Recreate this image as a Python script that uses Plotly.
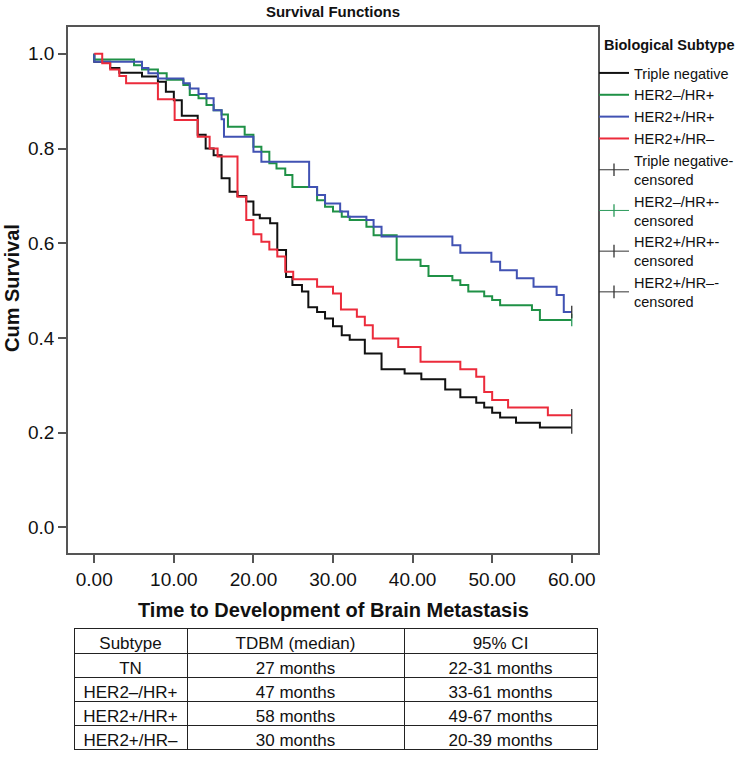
import plotly.graph_objects as go

# ---------------- data ----------------
series_names = ["Triple negative", "HER2–/HR+", "HER2+/HR+", "HER2+/HR–"]
censor_names = ["Triple negative-<br>censored", "HER2–/HR+-<br>censored",
                "HER2+/HR+-<br>censored", "HER2+/HR–-<br>censored"]
legend_title = "Biological Subtype"

tn_time = [0, 0, 2, 3.15, 6, 8, 9, 10, 11, 13, 14, 15, 16, 17, 18, 19.1, 20, 20.8, 22.1, 23,
           24.1, 24.9, 26.1, 26.9, 28, 29, 30, 31.1, 32.1, 34, 36.1, 39, 41.1, 44.1, 46, 48,
           49, 50, 51, 53, 56, 60]
tn_surv = [1.0, 0.983, 0.970, 0.960, 0.952, 0.941, 0.920, 0.902, 0.869, 0.829, 0.800, 0.786,
           0.737, 0.709, 0.700, 0.688, 0.660, 0.653, 0.642, 0.586, 0.529, 0.512, 0.498, 0.465,
           0.455, 0.441, 0.425, 0.406, 0.396, 0.367, 0.334, 0.325, 0.313, 0.291, 0.275, 0.263,
           0.253, 0.242, 0.232, 0.221, 0.211, 0.211]

hr_time = [0, 0, 5, 6, 8, 9.1, 11.2, 12, 13.1, 14.1, 15, 16, 16.8, 18.9, 20, 21, 22, 22.9, 24,
           24.9, 28, 29, 30, 31.1, 32.1, 34.2, 35.1, 38, 41, 42, 45, 46, 47, 49, 50, 51, 55,
           56, 60]
hr_surv = [1.0, 0.988, 0.976, 0.967, 0.959, 0.945, 0.934, 0.913, 0.906, 0.892, 0.881, 0.872,
           0.846, 0.829, 0.804, 0.793, 0.769, 0.758, 0.744, 0.719, 0.691, 0.677, 0.667, 0.656,
           0.649, 0.635, 0.617, 0.565, 0.552, 0.531, 0.522, 0.512, 0.498, 0.488, 0.480, 0.469,
           0.459, 0.438, 0.438]

hh_time = [0, 0, 6, 6.8, 8, 11.2, 12, 13.1, 14.1, 15, 16, 16.3, 20, 21, 27, 28, 29, 30.9,
           31.9, 34.2, 35.1, 36.1, 45, 46, 49.9, 51, 53.1, 55.2, 58.1, 59, 60]
hh_surv = [1.0, 0.983, 0.970, 0.959, 0.948, 0.938, 0.927, 0.915, 0.906, 0.881, 0.862, 0.825,
           0.793, 0.772, 0.719, 0.702, 0.684, 0.667, 0.656, 0.649, 0.635, 0.614, 0.596, 0.580,
           0.561, 0.543, 0.526, 0.508, 0.491, 0.455, 0.455]

hn_time = [0, 1, 2, 3.15, 4, 8, 10.1, 13, 14.5, 15.5, 18, 19.1, 20, 21, 22, 23, 24, 25, 28,
           30, 31, 33, 34, 35, 38.2, 41, 46, 48, 49, 50, 52, 57, 60]
hn_surv = [1.0, 0.980, 0.967, 0.953, 0.938, 0.904, 0.860, 0.825, 0.800, 0.783, 0.698, 0.649,
           0.619, 0.603, 0.587, 0.572, 0.540, 0.524, 0.508, 0.494, 0.460, 0.445, 0.427, 0.399,
           0.381, 0.350, 0.334, 0.318, 0.286, 0.269, 0.253, 0.237, 0.237]

censor_time = [60, 60, 60, 60]
censor_surv = [0.211, 0.438, 0.455, 0.237]

x_ticks = [0, 10, 20, 30, 40, 50, 60]
y_ticks = [0.0, 0.2, 0.4, 0.6, 0.8, 1.0]

table_header = ["Subtype", "TDBM (median)", "95% CI"]
table_subtype = ["TN", "HER2–/HR+", "HER2+/HR+", "HER2+/HR–"]
table_median = ["27 months", "47 months", "58 months", "30 months"]
table_ci = ["22-31 months", "33-61 months", "49-67 months", "20-39 months"]

# ---------------- styles ----------------
line_colors = ["#111111", "#1f9146", "#4152b3", "#ec2b3b"]
censor_colors = ["#333333", "#2a9a5a", "#333333", "#333333"]
FONT = "Liberation Sans, Arial, Helvetica, sans-serif"

W, H = 742, 758
L, R, T, B = 68, 144, 27, 8
PW, PH = W - L - R, H - T - B


def px_x(px):
    return (px - L) / PW


def px_y(py):
    return (H - B - py) / PH


fig = go.Figure()

times = [tn_time, hr_time, hh_time, hn_time]
survs = [tn_surv, hr_surv, hh_surv, hn_surv]
for name, t, s, c in zip(series_names, times, survs, line_colors):
    fig.add_trace(go.Scatter(x=t, y=s, mode="lines", name=name,
                             line=dict(color=c, width=2, shape="hv"),
                             xaxis="x", yaxis="y"))

for name, t, s, c in zip(censor_names, censor_time, censor_surv, censor_colors):
    fig.add_trace(go.Scatter(x=[t], y=[s], mode="lines+markers", name=name,
                             line=dict(color=c, width=1),
                             marker=dict(symbol="line-ns-open", size=9,
                                         line=dict(color=c, width=1.3)),
                             xaxis="x", yaxis="y"))

fig.add_trace(go.Table(
    domain=dict(x=[px_x(74), px_x(597)], y=[0.0, px_y(628)]),
    columnwidth=[113, 217, 193],
    header=dict(values=table_header, align="center", height=25,
                fill_color="white", line=dict(color="#222222", width=1),
                font=dict(family=FONT, size=17, color="#111111")),
    cells=dict(values=[table_subtype, table_median, table_ci], align="center",
               height=24, fill_color="white", line=dict(color="#222222", width=1),
               font=dict(family=FONT, size=17, color="#111111")),
))

axis_line = "#555555"
fig.update_layout(
    width=W, height=H,
    margin=dict(l=L, r=R, t=T, b=B, autoexpand=False),
    paper_bgcolor="white", plot_bgcolor="white",
    font=dict(family=FONT, color="#111111"),
    title=dict(text="Survival Functions", x=0.5, xref="paper", xanchor="center",
               y=1 - 12 / H, yanchor="middle", yref="container",
               font=dict(family=FONT, size=15, weight="bold", color="#111111")),
    xaxis=dict(range=[-3.3, 63.3], tickvals=x_ticks, tickformat=".2f",
               showline=True, mirror=True, linecolor=axis_line, linewidth=1.5,
               ticks="outside", ticklen=8, tickwidth=1.5, tickcolor=axis_line,
               showgrid=False, zeroline=False, domain=[0, 1],
               tickfont=dict(size=19, color="#111111"), anchor="y"),
    yaxis=dict(range=[-0.054, 1.0566], tickvals=y_ticks, tickformat=".1f",
               showline=True, mirror=True, linecolor=axis_line, linewidth=1.5,
               ticks="outside", ticklen=8, tickwidth=1.5, tickcolor=axis_line,
               showgrid=False, zeroline=False, domain=[px_y(553), 1.0],
               tickfont=dict(size=19, color="#111111"), anchor="x"),
    legend=dict(x=px_x(594), y=px_y(57), xanchor="left", yanchor="top",
                bgcolor="rgba(0,0,0,0)", itemwidth=30, tracegroupgap=0,
                font=dict(family=FONT, size=14.5, color="#111111")),
    showlegend=True,
    annotations=[
        dict(text=legend_title, xref="paper", yref="paper",
             x=px_x(602), y=px_y(45), xanchor="left", yanchor="middle",
             showarrow=False, font=dict(family=FONT, size=14.5, weight="bold")),
        dict(text="Time to Development of Brain Metastasis", xref="paper", yref="paper",
             x=0.5, y=px_y(610), xanchor="center", yanchor="middle",
             showarrow=False, font=dict(family=FONT, size=20, weight="bold")),
        dict(text="Cum Survival", xref="paper", yref="paper",
             x=px_x(12), y=px_y(288), xanchor="center", yanchor="middle",
             textangle=-90, showarrow=False,
             font=dict(family=FONT, size=20, weight="bold")),
    ],
)

fig.write_html("out.html", config={"displayModeBar": False},
               post_script="document.body.style.margin='0px';")
